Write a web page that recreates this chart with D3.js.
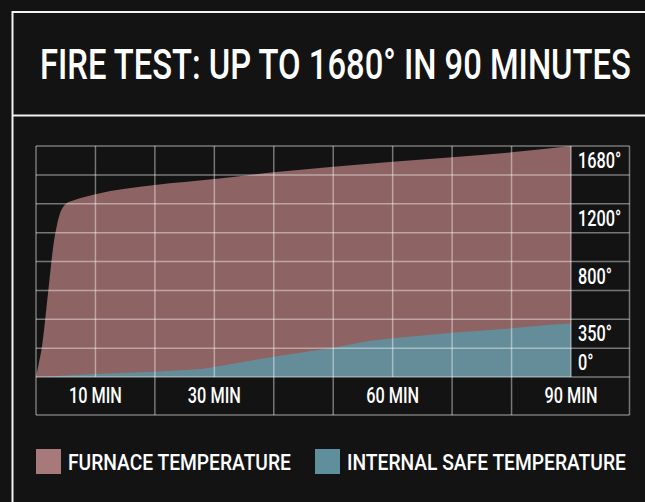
<!DOCTYPE html>
<html>
<head>
<meta charset="utf-8">
<script src="https://cdn.jsdelivr.net/npm/d3@7"></script>
<style>
  html, body { margin: 0; padding: 0; background: #131313; }
  svg { display: block; }
  text { font-family: Roboto, "Open Sans", sans-serif; fill: #ffffff; }
</style>
</head>
<body>
<svg id="chart" width="645" height="502"></svg>
<script>
// ---- data ----
const titleText = "FIRE TEST: UP TO 1680° IN 90 MINUTES";
const furnaceMinutes = [0, 0.5, 1, 2, 3, 3.5, 4, 4.5, 5, 6, 8, 10, 20, 30, 40, 50, 60, 70, 80, 90];
const furnaceTemps   = [0, 105, 220, 600, 980, 1100, 1185, 1232, 1258, 1280, 1308, 1330, 1396, 1440, 1489, 1529, 1566, 1598, 1634, 1680];
const internalMinutes = [0, 10, 20, 28, 40, 50, 56, 60, 70, 80, 86, 90];
const internalTemps   = [0, 22, 39, 58, 148, 213, 262, 281, 322, 354, 378, 390];
const xTickMinutes = [10, 30, 60, 90];
const xTickLabels  = ["10 MIN", "30 MIN", "60 MIN", "90 MIN"];
const xBandDividers = [0, 20, 40, 50, 70, 80];
const yRowLabels = ["1680°", "", "1200°", "", "800°", "", "350°", "0°"];
const legendLabels = ["FURNACE TEMPERATURE", "INTERNAL SAFE TEMPERATURE"];

// ---- layout ----
const W = 645, H = 502;
const plot = { left: 36, right: 571, top: 146, bottom: 377 };
const labelColRight = 629.5;
const axisBandBottom = 415;
const gridColor = "rgba(255,255,255,0.42)";
const furnaceFill = "#8e6364";
const internalFill = "#658d99";
const swatchColors = ["#a8797b", "#5f8e9c"];

const svg = d3.select("#chart");
svg.append("rect").attr("width", W).attr("height", H).attr("fill", "#131313");

// title frame
svg.append("path")
  .attr("d", `M${W},12 H12.5 V${H}`)
  .attr("fill", "none").attr("stroke", "#f2f2f2").attr("stroke-width", 2);
svg.append("line").attr("x1", 12).attr("x2", W).attr("y1", 115.5).attr("y2", 115.5)
  .attr("stroke", "#f2f2f2").attr("stroke-width", 2);

// horizontally condensed text via a scale transform around the anchor point
function condensedText(parent, str, px, py, size, k, anchor) {
  const g = parent.append("g").attr("transform", `translate(${px},${py}) scale(${k},1)`);
  return g.append("text").text(str).attr("x", 0).attr("y", 0)
    .attr("font-size", size).attr("font-weight", 500)
    .attr("text-anchor", anchor || "start");
}

// title: scale to the reference width
{
  const t = condensedText(svg, titleText, 40, 78.5, 42, 1);
  const w = t.node().getComputedTextLength();
  d3.select(t.node().parentNode).attr("transform", `translate(40,78.5) scale(${591 / w},1)`);
}

// scales
const x = d3.scaleLinear().domain([0, 90]).range([plot.left, plot.right]);
const y = d3.scaleLinear().domain([0, 1680]).range([plot.bottom, plot.top]);

const area = d3.area().curve(d3.curveMonotoneX)
  .x(d => x(d[0])).y0(y(0)).y1(d => y(d[1]));
const areaLin = d3.area().curve(d3.curveLinear)
  .x(d => x(d[0])).y0(y(0)).y1(d => y(d[1]));

svg.append("path").datum(d3.zip(furnaceMinutes, furnaceTemps))
  .attr("d", area).attr("fill", furnaceFill);
svg.append("path").datum(d3.zip(internalMinutes, internalTemps))
  .attr("d", areaLin).attr("fill", internalFill);

// grid
const grid = svg.append("g").attr("stroke", gridColor).attr("stroke-width", 1.5);
const yRows = d3.range(0, 1680 + 1, 210);
grid.selectAll(".h").data(yRows).join("line")
  .attr("x1", plot.left).attr("x2", labelColRight)
  .attr("y1", d => y(d)).attr("y2", d => y(d));
grid.selectAll(".v").data(d3.range(0, 91, 10)).join("line")
  .attr("x1", d => x(d)).attr("x2", d => x(d))
  .attr("y1", plot.top).attr("y2", plot.bottom);
grid.append("line").attr("x1", labelColRight).attr("x2", labelColRight)
  .attr("y1", plot.top).attr("y2", axisBandBottom);
grid.append("line").attr("x1", plot.left).attr("x2", labelColRight)
  .attr("y1", axisBandBottom).attr("y2", axisBandBottom);
grid.selectAll(".bd").data(xBandDividers).join("line")
  .attr("x1", d => x(d)).attr("x2", d => x(d))
  .attr("y1", plot.bottom).attr("y2", axisBandBottom);

// y row labels
const rowH = (plot.bottom - plot.top) / yRowLabels.length;
const yl = svg.append("g");
yRowLabels.forEach((lab, i) => {
  if (lab === "") return;
  condensedText(yl, lab, plot.right + 7, plot.top + rowH * (i + 0.5) + 7.7, 22, 0.74);
});

// x labels
const xl = svg.append("g");
xTickLabels.forEach((lab, i) => {
  condensedText(xl, lab, x(xTickMinutes[i]), (plot.bottom + axisBandBottom) / 2 + 7, 22, 0.74, "middle");
});

// legend
const legendX = [36, 315];
const lg = svg.append("g");
legendLabels.forEach((lab, i) => {
  lg.append("rect").attr("x", legendX[i]).attr("y", 449).attr("width", 25).attr("height", 25)
    .attr("fill", swatchColors[i]);
  condensedText(lg, lab, legendX[i] + 32, 469.5, 22.5, 0.855);
});
</script>
</body>
</html>
